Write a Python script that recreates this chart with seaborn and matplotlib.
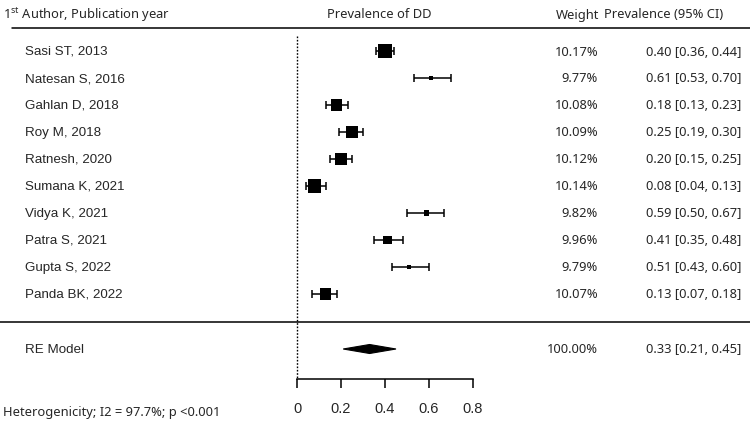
import matplotlib
matplotlib.use("Agg")
import matplotlib.pyplot as plt
import numpy as np
import pandas as pd
import seaborn as sns

# study data
authors = ["Sasi ST, 2013", "Natesan S, 2016", "Gahlan D, 2018", "Roy M, 2018",
           "Ratnesh, 2020", "Sumana K, 2021", "Vidya K, 2021", "Patra S, 2021",
           "Gupta S, 2022", "Panda BK, 2022"]
prevalence = [0.40, 0.61, 0.18, 0.25, 0.20, 0.08, 0.59, 0.41, 0.51, 0.13]
ci_low = [0.36, 0.53, 0.13, 0.19, 0.15, 0.04, 0.50, 0.35, 0.43, 0.07]
ci_high = [0.44, 0.70, 0.23, 0.30, 0.25, 0.13, 0.67, 0.48, 0.60, 0.18]
weights = [10.17, 9.77, 10.08, 10.09, 10.12, 10.14, 9.82, 9.96, 9.79, 10.07]

re_label = "RE Model"
re_prev, re_low, re_high, re_weight = 0.33, 0.21, 0.45, 100.00
xticks = [0, 0.2, 0.4, 0.6, 0.8]
het_text = "Heterogenicity; I2 = 97.7%; p <0.001"

sns.set_theme(style="white")
plt.rcParams["font.family"] = ["Noto Sans", "DejaVu Sans"]
plt.rcParams["mathtext.fontset"] = "custom"
plt.rcParams["mathtext.rm"] = "Noto Sans"

W, H = 750, 431
X0, SCALE = 297, 220  # pixel of x=0, pixels per unit


def px(x):
    return (x - X0) / SCALE


row_y = [52 + 27 * i for i in range(len(authors))]
re_y = 350

df = pd.DataFrame({"author": authors, "prev": prevalence, "lo": ci_low,
                   "hi": ci_high, "weight": weights, "y": row_y})

# box side grows linearly with weight (pixels -> points^2)
wmin, wmax = min(weights), max(weights)
side_px = {w: 4 + 10 * (w - wmin) / (wmax - wmin) for w in weights}
size_map = {w: (s * 0.72) ** 2 for w, s in side_px.items()}

fig = plt.figure(figsize=(W / 100, H / 100), dpi=100)
ax = fig.add_axes([0, 0, 1, 1])
ax.set_xlim(px(0), px(W))
ax.set_ylim(H, 0)

fs = 9.3
name_font = dict(fontfamily="Liberation Sans", fontsize=9.6)

# separators
ax.plot([px(12), px(750)], [29, 29], color="black", lw=1.1)
ax.plot([px(0), px(750)], [323, 323], color="black", lw=1.1)
ax.plot([0, 0], [37, 380], color="black", lw=1.0, ls=(0, (1.2, 1.2)))

# confidence intervals and boxes
ax.errorbar(df["prev"], df["y"], xerr=[df["prev"] - df["lo"], df["hi"] - df["prev"]],
            fmt="none", ecolor="black", elinewidth=1.1, capsize=2.6, capthick=1.1)
sns.scatterplot(data=df, x="prev", y="y", size="weight", sizes=size_map,
                marker="s", color="black", edgecolor="none", legend=False, ax=ax)

# summary diamond
h = 4.5
ax.fill([re_low, re_prev, re_high, re_prev], [re_y, re_y - h, re_y, re_y + h],
        color="black", lw=0.8, ec="black")

# headers
ax.text(px(3), 15, r"1$^{\mathrm{st}}$ Author, Publication year", fontsize=fs,
        va="center", ha="left")
ax.text(px(379), 15, "Prevalence of DD", fontsize=fs, va="center", ha="center")
ax.text(px(599), 15, "Weight", fontsize=fs, va="center", ha="right")
ax.text(px(604), 15, "Prevalence (95% CI)", fontsize=fs, va="center", ha="left")

# rows
for a, p, lo, hi, w, y in zip(authors, prevalence, ci_low, ci_high, weights, row_y):
    ax.text(px(25), y, a, va="center", ha="left", **name_font)
    ax.text(px(598), y, f"{w:.2f}%", fontsize=fs, va="center", ha="right")
    ax.text(px(741), y, f"{p:.2f} [{lo:.2f}, {hi:.2f}]", fontsize=fs, va="center", ha="right")

ax.text(px(25), re_y, re_label, va="center", ha="left", **name_font)
ax.text(px(598), re_y, f"{re_weight:.2f}%", fontsize=fs, va="center", ha="right")
ax.text(px(741), re_y, f"{re_prev:.2f} [{re_low:.2f}, {re_high:.2f}]", fontsize=fs,
        va="center", ha="right")

ax.text(px(3), 413, het_text, fontsize=fs, va="center", ha="left")

# x axis
for s in ["top", "left", "right"]:
    ax.spines[s].set_visible(False)
ax.spines["bottom"].set_position(("data", 380))
ax.spines["bottom"].set_bounds(0, 0.8)
ax.spines["bottom"].set_color("black")
ax.spines["bottom"].set_linewidth(1.1)
ax.set_xticks(xticks)
ax.set_xticklabels(["0" if t == 0 else f"{t:.1f}" for t in xticks],
                   fontfamily="Liberation Sans", fontsize=10.5)
ax.tick_params(axis="x", direction="out", length=6.5, width=1.1, color="black",
               pad=9, bottom=True)
ax.tick_params(axis="y", left=False, labelleft=False)
ax.set_xlabel("")
ax.set_ylabel("")
ax.grid(False)

fig.savefig("out.png", dpi=100)
